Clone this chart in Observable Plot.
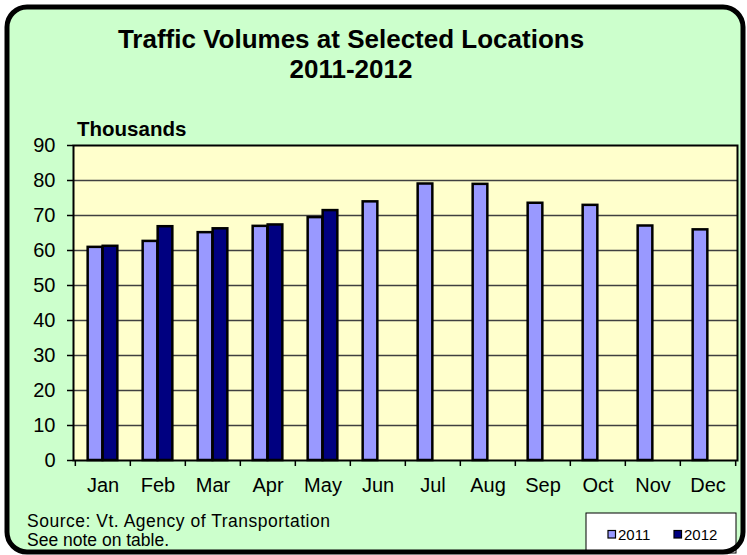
<!DOCTYPE html>
<html><head><meta charset="utf-8">
<script src="https://cdn.jsdelivr.net/npm/d3@7"></script>
<script src="https://cdn.jsdelivr.net/npm/@observablehq/plot@0.6"></script>
<style>
body{margin:0;background:#fff}
#chart{position:relative;width:747px;height:555px}
</style>
</head><body><div id="chart"></div>
<script>
const months = ["Jan","Feb","Mar","Apr","May","Jun","Jul","Aug","Sep","Oct","Nov","Dec"];
const values2011 = [60.9, 62.6, 65.1, 66.9, 69.4, 73.9, 79.0, 78.9, 73.5, 72.9, 67.0, 65.9];
const values2012 = [61.2, 66.8, 66.2, 67.3, 71.4];
const yTicks = [0,10,20,30,40,50,60,70,80,90];
const years = ["2011","2012"];
const colors = ["#9999FF","#000080"];
const titleLines = ["Traffic Volumes at Selected Locations","2011-2012"];
const unitLabel = "Thousands";
const sourceLines = ["Source: Vt. Agency of Transportation","See note on table."];

const W = 747, H = 555, mL = 73, mR = 10, mT = 145, mB = 95;
const bw = (W - mL - mR) / months.length;
const barW = 15;
const font = "'Liberation Sans', Arial, sans-serif";

const d2011 = months.map((m, i) => ({month: m, value: values2011[i]}));
const d2012 = values2012.map((v, i) => ({month: months[i], value: v}));

const plot = Plot.plot({
  width: W, height: H,
  marginLeft: mL, marginRight: mR, marginTop: mT, marginBottom: mB,
  style: {background: "transparent", fontFamily: font, color: "#000", overflow: "visible"},
  x: {domain: months, padding: 0, axis: null},
  y: {domain: [0, 90], axis: null},
  marks: [
    Plot.frame({fill: "#FFFFCC", stroke: null}),
    Plot.ruleY(yTicks.filter(v => v > 0 && v < 90), {stroke: "#404040", strokeWidth: 1.5}),
    Plot.barY(d2011, {x: "month", y: "value", fill: colors[0], stroke: "#000", strokeWidth: 2.5,
      insetLeft: bw/2 - barW, insetRight: bw/2}),
    Plot.barY(d2012, {x: "month", y: "value", fill: colors[1], stroke: "#000", strokeWidth: 2.5,
      insetLeft: bw/2, insetRight: bw/2 - barW}),
    Plot.frame({stroke: "#000", strokeWidth: 2}),
    Plot.axisY({ticks: yTicks, tickSize: 6, tickPadding: 12, fontSize: 20, strokeWidth: 1.5, label: null}),
    Plot.axisX({tickSize: 0, tickPadding: 17, fontSize: 20, label: null}),
    Plot.axisX({tickSize: 6, tickFormat: () => "", dx: -bw/2, strokeWidth: 1.5, label: null}),
    Plot.axisX({ticks: [months[months.length-1]], tickSize: 6, tickFormat: () => "", dx: bw/2, strokeWidth: 1.5, label: null})
  ]
});

const svg = d3.select(plot);
// chart background with rounded border
svg.insert("rect", ":first-child")
  .attr("x", 7).attr("y", 7).attr("width", 736).attr("height", 545)
  .attr("rx", 20).attr("fill", "#CCFFCC").attr("stroke", "none");

// titles
titleLines.forEach((t, i) => {
  svg.append("text").attr("x", 351).attr("y", 48 + i*30)
    .attr("text-anchor", "middle").attr("font-family", font)
    .attr("font-weight", "bold").attr("font-size", 26).attr("fill", "#000").text(t);
});
svg.append("text").attr("x", 77).attr("y", 136).attr("text-anchor", "start")
  .attr("font-family", font).attr("font-weight", "bold").attr("font-size", 20.5)
  .attr("fill", "#000").text(unitLabel);

sourceLines.forEach((t, i) => {
  svg.append("text").attr("x", 27).attr("y", 527 + i*19).attr("text-anchor", "start")
    .attr("font-family", font).attr("font-size", 17.5).attr("fill", "#000")
    .attr("textLength", i === 0 ? 303 : null).text(t);
});

// legend
const lg = svg.append("g");
lg.append("rect").attr("x", 586).attr("y", 513).attr("width", 150).attr("height", 40)
  .attr("fill", "#fff").attr("stroke", "#000").attr("stroke-width", 1);
years.forEach((yr, i) => {
  const x0 = 608 + i*66;
  lg.append("rect").attr("x", x0).attr("y", 530.5).attr("width", 7.5).attr("height", 7.5)
    .attr("fill", colors[i]).attr("stroke", "#000").attr("stroke-width", 1.2);
  lg.append("text").attr("x", x0 + 10).attr("y", 540).attr("text-anchor", "start")
    .attr("font-family", font).attr("font-size", 15).attr("fill", "#000").text(yr);
});

// outer border on top
svg.append("rect")
  .attr("x", 7).attr("y", 7).attr("width", 736).attr("height", 545)
  .attr("rx", 20).attr("fill", "none").attr("stroke", "#000").attr("stroke-width", 5);

document.getElementById("chart").appendChild(plot);
</script>
</body></html>
